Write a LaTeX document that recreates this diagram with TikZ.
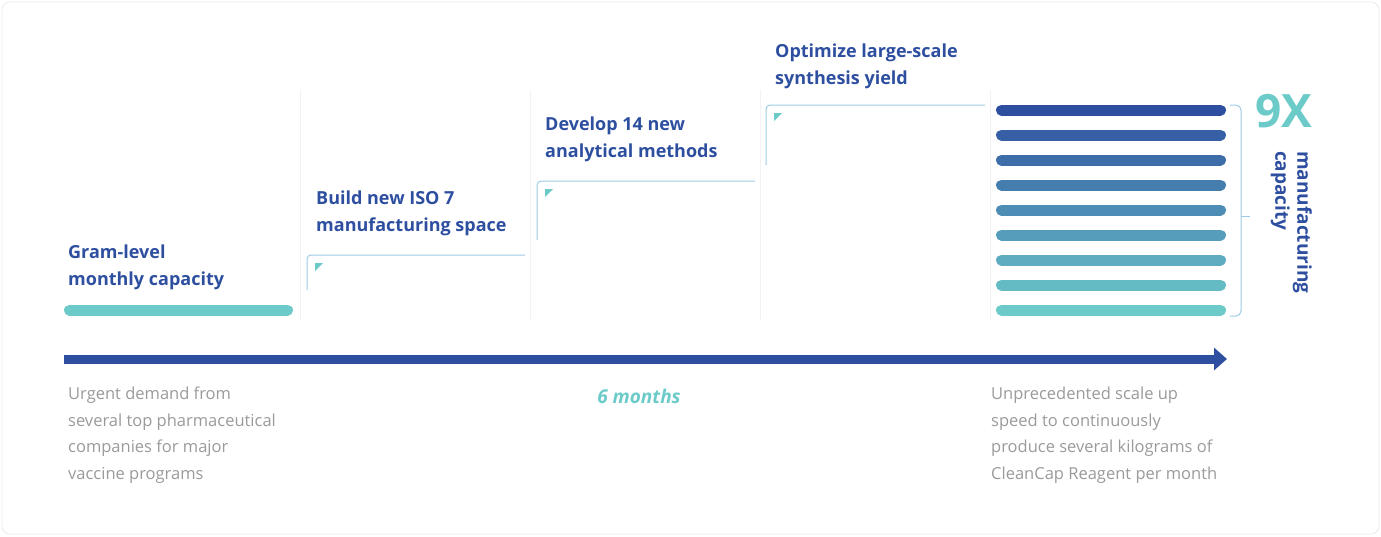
\documentclass[tikz,border=0pt]{standalone}
\usepackage{fontspec}
\setmainfont{Open Sans}
\usetikzlibrary{arrows.meta}
\definecolor{dblue}{HTML}{2E4FA0}
\definecolor{teal}{HTML}{6CCBC9}
\definecolor{lblue}{HTML}{9CCBE6}
\definecolor{gtxt}{HTML}{9A9A9A}
\tikzset{
  title/.style={anchor=north west,align=left,text=dblue,font=\fontsize{18}{27}\selectfont\bfseries,inner sep=0pt},
  gray/.style={anchor=north west,align=left,text=gtxt,font=\fontsize{16.5}{26.5}\selectfont,inner sep=0pt},
  stepline/.style={draw=lblue,line width=1pt,rounded corners=4pt},
  sep/.style={draw=black!5,line width=0.8pt},
  tri/.style={fill=teal,draw=none},
}
\begin{document}
\begin{tikzpicture}[x=1pt,y=-1pt]
\useasboundingbox (0,0) rectangle (1381,536);
\draw[draw=black!8,rounded corners=8pt,line width=0.8pt] (2,2) rectangle (1379,534);
% separators
\foreach \x in {300,530,760,990} \draw[sep] (\x,90) -- (\x,320);
% steps
\foreach \xa/\ya/\xb/\yb in {307/255/525/290, 537/181/755/240, 766/105/985/165}{
  \draw[stepline] (\xa,\yb) -- (\xa,\ya) -- (\xb,\ya);
  \fill[tri] (\xa+8,\ya+8) -- (\xa+16,\ya+8) -- (\xa+8,\ya+16) -- cycle;
}
\node[title] (t0) at (68,245) {Gram-level\\monthly capacity};
\node[title] (t1) at (316,191) {Build new ISO 7\\manufacturing space};
\node[title] (t2) at (545,117) {Develop 14 new\\analytical methods};
\node[title] (t3) at (775,44) {Optimize large-scale\\synthesis yield};
% gram bar
\draw[teal,line width=11pt,line cap=round] (69.5,310) -- (287.5,310);
% capacity bars
\foreach \i in {0,...,8}{
  \pgfmathsetmacro{\p}{\i*12.5}
  \colorlet{bc}{teal!\p!dblue}
  \draw[bc,line width=11pt,line cap=round] (1001.5,110+25*\i) -- (1220.5,110+25*\i);
}
% bracket
\draw[lblue,line width=1pt,rounded corners=5pt] (1230,105) -- (1241,105) -- (1241,316) -- (1230,316);
\draw[lblue,line width=1pt] (1241,216) -- (1250,216);
\node[anchor=north west,inner sep=0pt,text=teal,font=\fontsize{46}{46}\selectfont\bfseries] (nx) at (1255,94) {9X};
\node[anchor=north west,inner sep=0pt,rotate=-90,align=left,text=dblue,font=\fontsize{19}{22}\selectfont\bfseries] (mc) at (1312,151) {manufacturing\\capacity};
% timeline arrow
\coordinate (a0) at (64,359);
\coordinate (a1) at (1227,359);
\draw[dblue,line width=9pt,-{Triangle[length=13pt,width=22pt]}] (a0) -- (a1);
\node[gray] (g0) at (68,387) {Urgent demand from\\several top pharmaceutical\\companies for major\\vaccine programs};
\node[anchor=center,inner sep=0pt,text=teal,font=\fontsize{19}{22}\selectfont\bfseries\itshape] (m6) at (639,396) {6 months};
\node[gray] (g1) at (991,387) {Unprecedented scale up\\speed to continuously\\produce several kilograms of\\CleanCap Reagent per month};
\end{tikzpicture}
\end{document}
